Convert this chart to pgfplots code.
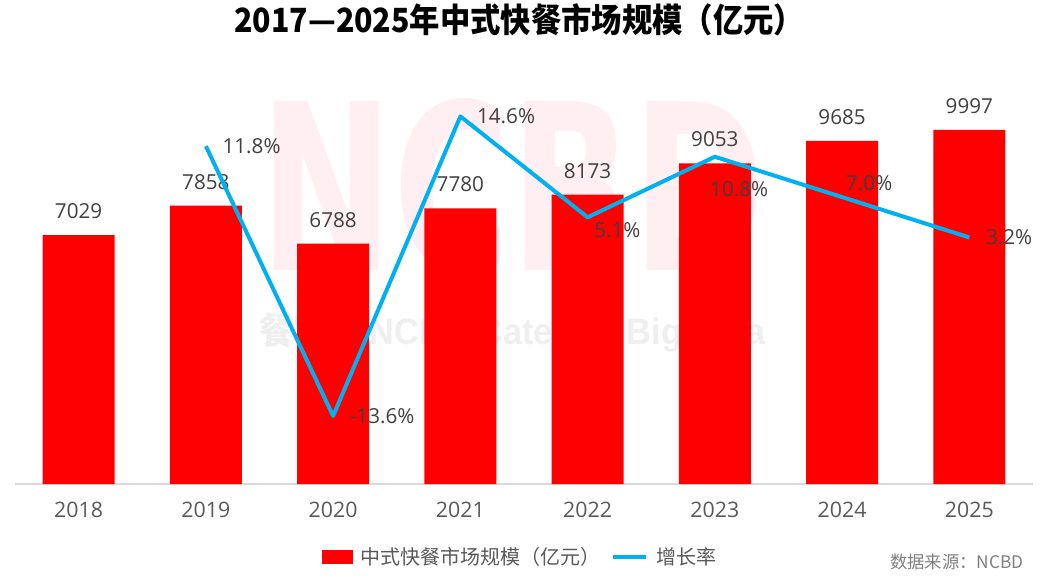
\documentclass[border=0pt]{standalone}
\usepackage{pgfplots}
\pgfplotsset{compat=1.18}
\usepackage{pgfplotstable}
\usepackage{fontspec}
\setmainfont{Open Sans}
\newfontfamily\cjk{Noto Sans CJK SC}
\newfontfamily\wmfont{DejaVu Sans}
\newfontfamily\wmfontb{Liberation Sans}
\definecolor{barred}{HTML}{FF0000}
\definecolor{lineblue}{HTML}{00B0F0}
\definecolor{lbl}{HTML}{404040}
\definecolor{tickc}{HTML}{595959}
\definecolor{axisgray}{HTML}{D9D9D9}
\definecolor{wmpink}{HTML}{FFEEF2}
\definecolor{wmgray}{HTML}{EFEFEF}
\definecolor{srcgray}{HTML}{7F7F7F}

\pgfplotstableread{
x v
0 7029
1 7858
2 6788
3 7780
4 8173
5 9053
6 9685
7 9997
}\market

\pgfplotstableread{
x g dx dy
1 11.8 11 0
2 -13.6 11 0
3 14.6 11 0
4 5.1 3.5 -9.75
5 10.8 -5 -24
6 7.0 1.5 10.5
7 3.2 11 0
}\growth

\begin{document}
\begin{tikzpicture}
\useasboundingbox (0,0) rectangle (789.75pt,434.25pt);
% watermark
\node[inner sep=0pt, text=wmpink] at (384.4pt,294.75pt) {\resizebox{380pt}{129pt}{\wmfont\bfseries NCBD}};
\node[inner sep=0pt, anchor=base, text=wmgray] at (384.4pt,175.5pt) {\resizebox{380pt}{24pt}{\cjk\bfseries 餐宝典 \wmfontb\bfseries NCBD Catering Big Data}};
% title
\node[font=\cjk\bfseries\fontsize{25}{25}\selectfont, inner sep=0pt] at (389.5pt,419.25pt) {\scalebox{0.91}[1]{2017—2025年中式快餐市场规模（亿元）}};

\begin{axis}[
  at={(11.25pt,71.25pt)}, anchor=south west,
  width=763.5pt, height=318.75pt, scale only axis,
  xmin=-0.5, xmax=7.5, ymin=0, ymax=12000,
  axis x line*=bottom, axis y line=none,
  x axis line style={draw=axisgray, line width=1.2pt, -},
  xtick={0,1,2,3,4,5,6,7},
  xticklabels={2018,2019,2020,2021,2022,2023,2024,2025},
  major tick length=0pt,
  xticklabel style={font=\fontsize{16}{16}\selectfont, text=tickc, anchor=center, inner sep=0pt, yshift=-19.5pt},
  clip=false,
  /pgf/number format/assume math mode=true,
]
\addplot[ybar, bar width=54pt, fill=barred, draw=none,
  nodes near coords={\pgfmathprintnumber[fixed,precision=0,1000 sep={}]{\pgfplotspointmeta}},
  nodes near coords style={font=\fontsize{15.5}{15.5}\selectfont, text=lbl, anchor=south, inner sep=0pt, yshift=12pt}]
  table[x=x,y=v]{\market};
\end{axis}

\begin{axis}[
  at={(11.25pt,71.25pt)}, anchor=south west,
  width=763.5pt, height=318.75pt, scale only axis,
  xmin=-0.5, xmax=7.5, ymin=-20, ymax=20,
  axis lines=none, clip=false,
  /pgf/number format/assume math mode=true,
  legend style={at={(0.495,-0.172)}, anchor=center, draw=none, fill=none,
    font=\cjk\fontsize{15}{15}\selectfont, text=tickc,
    /tikz/every odd column/.append style={column sep=6pt},
    /tikz/every even column/.append style={column sep=8pt},
    nodes={inner sep=0pt}},
  legend columns=2,
  legend cell align=left,
]
\addlegendimage{legend image code/.code={\fill[barred] (0pt,-4.875pt) rectangle (22.5pt,4.875pt);}}
\addlegendentry{中式快餐市场规模（亿元）}
\addplot[lineblue, line width=3pt, mark=none, line join=round,
  legend image code/.code={\draw[lineblue, line width=3pt] (0pt,0pt) -- (24.75pt,0pt);},
  visualization depends on={\thisrow{dx} \as \dx},
  visualization depends on={\thisrow{dy} \as \dy},
  nodes near coords={\pgfmathprintnumber[fixed,fixed zerofill,precision=1]{\pgfplotspointmeta}\%},
  nodes near coords style={font=\fontsize{15.5}{15.5}\selectfont, text=lbl, anchor=west, inner sep=0pt, xshift=\dx*1pt, yshift=\dy*1pt}]
  table[x=x,y=g]{\growth};
\addlegendentry{增长率}
\end{axis}

\node[anchor=east, inner sep=0pt, text=srcgray, font=\cjk\fontsize{13}{13}\selectfont] at (768pt,12.75pt) {数据来源：NCBD};
\end{tikzpicture}
\end{document}
